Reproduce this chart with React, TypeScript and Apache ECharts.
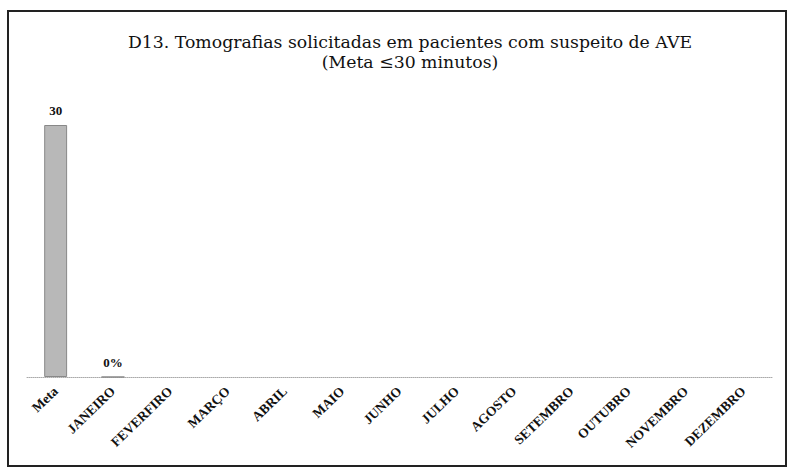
import React, { useEffect, useRef } from "react";
import * as echarts from "echarts";

const categories = ["Meta", "JANEIRO", "FEVERFIRO", "MARÇO", "ABRIL", "MAIO", "JUNHO", "JULHO", "AGOSTO", "SETEMBRO", "OUTUBRO", "NOVEMBRO", "DEZEMBRO"];
const values: (number | null)[] = [30, 0, null, null, null, null, null, null, null, null, null, null, null];
const valueLabels = ["30", "0%", "", "", "", "", "", "", "", "", "", "", ""];
const titleLines = ["D13. Tomografias solicitadas em pacientes com suspeito de AVE", "(Meta ≤30 minutos)"];

export default function App() {
  const ref = useRef<HTMLDivElement>(null);
  useEffect(() => {
    if (!ref.current) return;
    const chart = echarts.init(ref.current, undefined, { renderer: "svg" });
    chart.setOption({
      animation: false,
      backgroundColor: "#fff",
      title: {
        text: titleLines.join("\n"),
        left: 405,
        top: 27,
        textAlign: "center",
        textStyle: { fontFamily: "DejaVu Serif", fontSize: 17.3, fontWeight: "normal", color: "#111", lineHeight: 20, align: "center" },
      },
      graphic: [
        { type: "rect", shape: { x: 8, y: 11, width: 778, height: 455 }, style: { fill: "none", stroke: "#222", lineWidth: 2 } },
      ],
      grid: { left: 27, right: 21, top: 125, bottom: 94 },
      xAxis: {
        type: "category",
        data: categories,
        axisTick: { show: false },
        axisLine: { lineStyle: { color: "#aaa", type: "dotted", width: 1 } },
        axisLabel: { rotate: 44, interval: 0, margin: 12, fontFamily: "Liberation Serif", fontSize: 13.5, fontWeight: "bold", color: "#111" },
      },
      yAxis: { type: "value", min: 0, max: 30, show: false, splitLine: { show: false } },
      series: [
        {
          type: "bar",
          data: values,
          barWidth: "40%",
          itemStyle: { color: "#b8b8b8", borderColor: "#888", borderWidth: 1 },
          label: {
            show: true,
            position: "top",
            distance: 8,
            fontFamily: "Liberation Serif",
            fontSize: 13,
            fontWeight: "bold",
            color: "#111",
            formatter: (p: any) => valueLabels[p.dataIndex],
          },
        },
      ],
    });
    return () => chart.dispose();
  }, []);
  return <div ref={ref} style={{ width: 793, height: 471, position: "absolute", left: 0, top: 0 }} />;
}
